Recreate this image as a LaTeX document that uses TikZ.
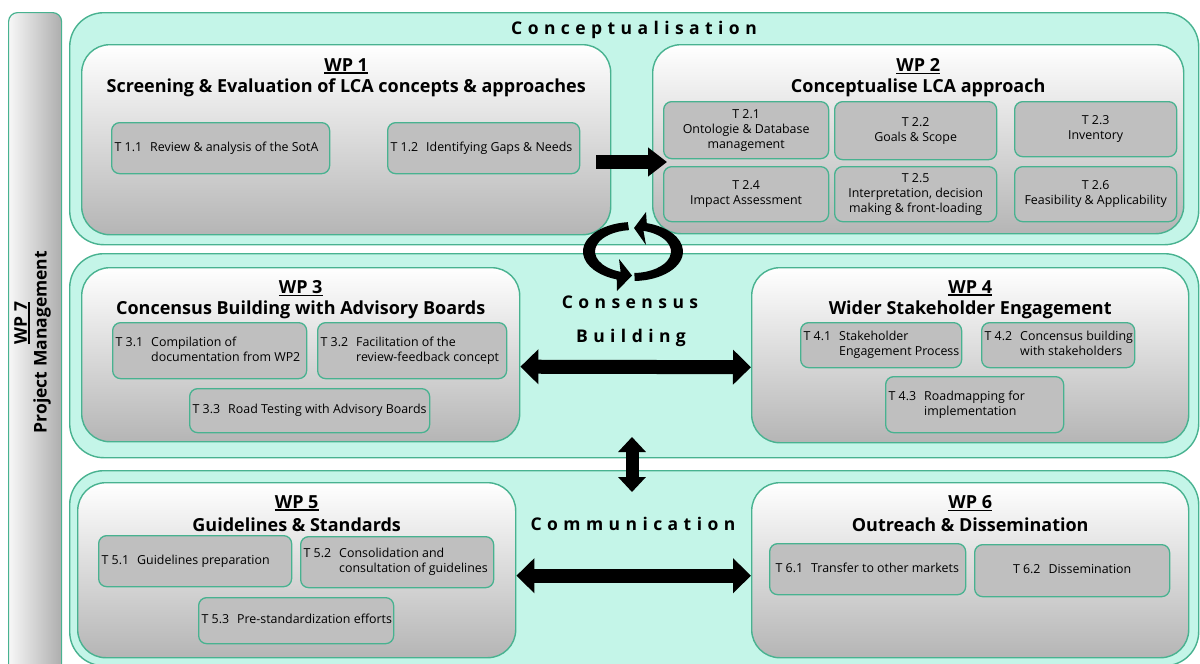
\documentclass[tikz,border=0pt]{standalone}
\usepackage{fontspec}
\setmainfont{Open Sans}
\newfontfamily\trackfont[LetterSpace=31]{Open Sans}
\usetikzlibrary{arrows.meta,calc}

\definecolor{mint}{RGB}{196,245,232}
\definecolor{tealline}{RGB}{72,178,144}

% underlined work-package number with a heavier rule
\newcommand\wpline[1]{\setbox0\hbox{#1}\leavevmode\rlap{\rule[-2.8pt]{\wd0}{1.4pt}}\box0}
\newcommand\taskfont{\fontsize{12.4}{15}\selectfont}
% task number followed by a hanging-indented description
\newcommand\tasktab[2]{\begin{tabular}{@{}l@{\hspace{8pt}}l@{}}#1&#2\end{tabular}}

\tikzset{
  sidebar/.style={anchor=north west, draw=tealline, line width=1.2pt,
    left color=black!3, right color=black!32, rounded corners=9pt, inner sep=0pt},
  panel/.style={anchor=north west, draw=tealline, line width=1.4pt, fill=mint,
    rounded corners=34pt, inner sep=0pt},
  wpbox/.style={anchor=north west, draw=tealline, line width=1.4pt,
    top color=white, bottom color=black!29, rounded corners=28pt, inner sep=0pt},
  task/.style={anchor=north west, draw=tealline, line width=1.3pt, fill=black!25,
    rounded corners=8pt, inner xsep=3pt, inner ysep=0pt, font=\taskfont},
  wpnum/.style={inner sep=0pt, font=\fontsize{18}{21}\selectfont\bfseries},
  wptitle/.style={inner sep=0pt, font=\fontsize{18}{21}\selectfont\bfseries},
  sidefont/.style={inner sep=0pt, rotate=90, font=\fontsize{17.5}{20}\selectfont\bfseries},
  tracked/.style={inner sep=0pt, font=\trackfont\bfseries\fontsize{17.5}{20}\selectfont},
  bigarrow/.style={line width=14pt, black},
}

\begin{document}
\begin{tikzpicture}[x=1pt,y=-1pt]
\useasboundingbox (0,0) rectangle (1200,664);
\clip (0,0) rectangle (1200,664);

% project management bar
\node[sidebar, minimum width=53pt, minimum height=690pt] (wp7) at (8,12) {};
\node[sidefont] (wp7num) at (22,323) {\wpline{WP 7}};
\node[sidefont] (wp7name) at (42,342) {Project Management};

% the three phase panels
\node[panel, minimum width=1129pt, minimum height=232pt] (pconc) at (69,12) {};
\node[panel, minimum width=1129pt, minimum height=204pt] (pcons) at (69,253) {};
\node[panel, minimum width=1129pt, minimum height=195pt] (pcomm) at (69,470) {};

% work-package boxes
\node[wpbox, minimum width=529pt, minimum height=190pt] (wp1) at (81,44) {};
\node[wpbox, minimum width=531pt, minimum height=189pt] (wp2) at (652,44) {};
\node[wpbox, minimum width=438pt, minimum height=174pt] (wp3) at (81,267) {};
\node[wpbox, minimum width=437pt, minimum height=175pt] (wp4) at (751,267) {};
\node[wpbox, minimum width=438pt, minimum height=175pt] (wp5) at (77,482) {};
\node[wpbox, minimum width=437pt, minimum height=175pt] (wp6) at (751,482) {};

% phase labels
\node[tracked] (lconc) at (634,30) {Conceptualisation};
\node[tracked] (lcons) at (630,302) {Consensus};
\node[tracked] (lbuild) at (631,338) {Building};
\node[tracked] (lcomm) at (633,524) {Communication};

% work-package headings
\node[wpnum] (h1n) at ($(wp1.north)+(0,22)$) {\wpline{WP 1}};
\node[wptitle] (h1t) at ($(wp1.north)+(0,44)$) {Screening \& Evaluation of LCA concepts \& approaches};
\node[wpnum] (h2n) at ($(wp2.north)+(0,22)$) {\wpline{WP 2}};
\node[wptitle] (h2t) at ($(wp2.north)+(0,44)$) {Conceptualise LCA approach};
\node[wpnum] (h3n) at ($(wp3.north)+(0,21)$) {\wpline{WP 3}};
\node[wptitle] (h3t) at ($(wp3.north)+(0,43)$) {Concensus Building with Advisory Boards};
\node[wpnum] (h4n) at ($(wp4.north)+(0,21)$) {\wpline{WP 4}};
\node[wptitle] (h4t) at ($(wp4.north)+(0,43)$) {Wider Stakeholder Engagement};
\node[wpnum] (h5n) at ($(wp5.north)+(0,21)$) {\wpline{WP 5}};
\node[wptitle] (h5t) at ($(wp5.north)+(0,43)$) {Guidelines \& Standards};
\node[wpnum] (h6n) at ($(wp6.north)+(0,21)$) {\wpline{WP 6}};
\node[wptitle] (h6t) at ($(wp6.north)+(0,43)$) {Outreach \& Dissemination};

% WP 1 tasks
\node[task, minimum width=218pt, minimum height=51pt] (t11) at (111,122)
  {\makebox[212pt][l]{\tasktab{T 1.1}{Review \& analysis of the SotA}}};
\node[task, minimum width=192pt, minimum height=51pt] (t12) at (387,122)
  {\makebox[186pt][l]{\tasktab{T 1.2}{Identifying Gaps \& Needs}}};

% WP 2 tasks
\node[task, align=center, minimum width=165pt, minimum height=57pt] (t21) at (663,101)
  {T 2.1\\Ontologie \& Database\\management};
\node[task, align=center, minimum width=162pt, minimum height=58pt] (t22) at (834,101)
  {T 2.2\\Goals \& Scope};
\node[task, align=center, minimum width=162pt, minimum height=55pt] (t23) at (1014,101)
  {T 2.3\\Inventory};
\node[task, align=center, minimum width=165pt, minimum height=55pt] (t24) at (663,166)
  {T 2.4\\Impact Assessment};
\node[task, align=center, minimum width=162pt, minimum height=55pt] (t25) at (834,166)
  {T 2.5\\Interpretation, decision\\making \& front-loading};
\node[task, align=center, minimum width=162pt, minimum height=55pt] (t26) at (1014,166)
  {T 2.6\\Feasibility \& Applicability};

% WP 3 tasks
\node[task, minimum width=194pt, minimum height=56pt] (t31) at (112,322)
  {\makebox[188pt][l]{\tasktab{T 3.1}{Compilation of\\&documentation from WP2}}};
\node[task, minimum width=189pt, minimum height=56pt] (t32) at (317,322)
  {\makebox[183pt][l]{\tasktab{T 3.2}{Facilitation of the\\&review-feedback concept}}};
\node[task, minimum width=240pt, minimum height=44pt] (t33) at (189,388)
  {\makebox[234pt][l]{\tasktab{T 3.3}{Road Testing with Advisory Boards}}};

% WP 4 tasks
\node[task, minimum width=161pt, minimum height=45pt] (t41) at (800,322)
  {\makebox[155pt][l]{\tasktab{T 4.1}{Stakeholder\\&Engagement Process}}};
\node[task, minimum width=153pt, minimum height=45pt] (t42) at (981,322)
  {\makebox[147pt][l]{\tasktab{T 4.2}{Concensus building\\&with stakeholders}}};
\node[task, minimum width=178pt, minimum height=56pt] (t43) at (885,376)
  {\makebox[172pt][l]{\tasktab{T 4.3}{Roadmapping for\\&implementation}}};

% WP 5 tasks
\node[task, minimum width=193pt, minimum height=51pt] (t51) at (98,535)
  {\makebox[187pt][l]{\tasktab{T 5.1}{Guidelines preparation}}};
\node[task, minimum width=193pt, minimum height=51pt] (t52) at (300,536)
  {\makebox[187pt][l]{\tasktab{T 5.2}{Consolidation and\\&consultation of guidelines}}};
\node[task, minimum width=195pt, minimum height=46pt] (t53) at (198,597)
  {\makebox[189pt][l]{\tasktab{T 5.3}{Pre-standardization efforts}}};

% WP 6 tasks
\node[task, minimum width=196pt, minimum height=51pt] (t61) at (769,543)
  {\makebox[190pt][l]{\hspace{3pt}\tasktab{T 6.1}{Transfer to other markets}}};
\node[task, align=center, minimum width=195pt, minimum height=52pt] (t62) at (974,544)
  {\tasktab{T 6.2}{Dissemination}};

% flow from WP 1 into WP 2
\coordinate (a12s) at (596,162);
\coordinate (a12e) at (667,162);
\draw[bigarrow, -{Triangle[width=28pt,length=19pt]}] (a12s) -- (a12e);

% exchanges between the work packages
\draw[bigarrow, {Triangle[width=34pt,length=18pt]}-{Triangle[width=34pt,length=18pt]}]
  ($(wp3.east)+(0,12)$) -- ($(wp4.west)+(0,12)$);
\draw[bigarrow, {Triangle[width=34pt,length=18pt]}-{Triangle[width=34pt,length=18pt]}]
  ($(wp5.east)+(0,5.5)$) -- ($(wp6.west)+(0,5.5)$);
\coordinate (vs) at (632,437);
\coordinate (ve) at (632,492);
\draw[line width=13pt, {Triangle[width=27pt,length=15pt]}-{Triangle[width=27pt,length=15pt]}] (vs) -- (ve);

% consensus cycle: two curved arrows running counter-clockwise
\coordinate (cyc) at (633,251.5);
\fill[black] ($(cyc)+(-96:50 and 29.5)$)
  arc[start angle=-96, end angle=-251, x radius=50, y radius=29.5]
  -- (617,291) -- (632,275.5) -- (619,259)
  -- ($(cyc)+(-251:38 and 21.5)$)
  arc[start angle=-251, end angle=-96, x radius=38, y radius=21.5] -- cycle;
\fill[black] ($(cyc)+(-272:50 and 29.5)$)
  arc[start angle=-272, end angle=-434, x radius=50, y radius=29.5]
  -- (646,212) -- (634,228) -- (646,245)
  -- ($(cyc)+(-434:38 and 21.5)$)
  arc[start angle=-434, end angle=-272, x radius=38, y radius=21.5] -- cycle;
\end{tikzpicture}
\end{document}
